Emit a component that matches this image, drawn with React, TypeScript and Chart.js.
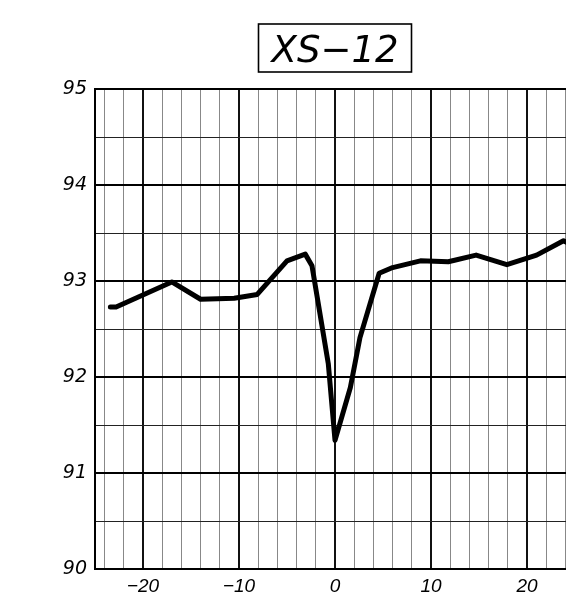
import React, { useEffect, useRef } from "react";
import { Chart, registerables } from "chart.js";

Chart.register(...registerables);

const TITLE = "XS\u221212";
const XS = [-23.4, -22.8, -17.0, -14.0, -10.5, -8.1, -5.0, -3.1, -2.4, -0.7, 0.0, 1.6, 2.6, 4.6, 6.0, 8.9, 11.8, 14.7, 17.9, 21.0, 23.8, 25.0];
const YS = [92.73, 92.73, 92.99, 92.81, 92.82, 92.86, 93.21, 93.28, 93.16, 92.14, 91.34, 91.89, 92.41, 93.08, 93.14, 93.21, 93.2, 93.27, 93.17, 93.27, 93.42, 93.36];
const X_MIN = -25;
const X_MAX = 25;
const Y_MIN = 90;
const Y_MAX = 95;
const X_TICKS = [-24, -22, -20, -18, -16, -14, -12, -10, -8, -6, -4, -2, 0, 2, 4, 6, 8, 10, 12, 14, 16, 18, 20, 22, 24];
const X_LABELED = [-20, -10, 0, 10, 20];
const Y_TICKS = [90, 90.5, 91, 91.5, 92, 92.5, 93, 93.5, 94, 94.5, 95];
const Y_LABELED = [90, 91, 92, 93, 94, 95];

const titlePlugin = {
  id: "boxTitle",
  afterDraw(chart: any) {
    const ctx = chart.ctx;
    const a = chart.chartArea;
    const cx = (a.left + a.right) / 2;
    ctx.save();
    ctx.font = "italic 200 37px 'DejaVu Sans', sans-serif";
    ctx.fillStyle = "#000";
    ctx.textAlign = "center";
    ctx.textBaseline = "alphabetic";
    ctx.fillText(TITLE, cx, 54);
    ctx.lineWidth = 1.6;
    ctx.strokeStyle = "#000";
    ctx.strokeRect(cx - 76.5, 16, 153, 48);
    ctx.restore();
  },
};

export default function App() {
  const ref = useRef<HTMLCanvasElement>(null);
  useEffect(() => {
    if (!ref.current) return;
    const pts = XS.map((x, i) => ({ x, y: YS[i] }));
    const chart = new Chart(ref.current, {
      type: "line",
      data: {
        datasets: [
          {
            data: pts,
            borderColor: "#000",
            borderWidth: 5,
            pointRadius: 0,
            tension: 0,
            borderJoinStyle: "round",
            borderCapStyle: "round",
          },
        ],
      },
      plugins: [titlePlugin],
      options: {
        animation: false,
        responsive: false,
        devicePixelRatio: 1,
        layout: { padding: { top: 81, right: 13, left: 0, bottom: 0 } },
        plugins: { legend: { display: false }, tooltip: { enabled: false }, title: { display: false } },
        scales: {
          x: {
            type: "linear",
            min: X_MIN,
            max: X_MAX,
            afterBuildTicks: (s: any) => {
              s.ticks = X_TICKS.map((v) => ({ value: v }));
            },
            afterFit: (s: any) => {
              s.height = 28;
            },
            ticks: {
              autoSkip: false,
              maxRotation: 0,
              padding: 6,
              color: "#000",
              font: { family: "'Liberation Sans', Arial, sans-serif", size: 19, style: "italic" },
              callback: (v: any) => {
                const n = Number(v);
                if (!X_LABELED.includes(n)) return "";
                return n < 0 ? "\u2212" + Math.abs(n) : String(n);
              },
            },
            grid: {
              drawTicks: false,
              color: (c: any) => (c.tick && X_LABELED.includes(c.tick.value) ? "#111" : "#888"),
              lineWidth: (c: any) => (c.tick && X_LABELED.includes(c.tick.value) ? 2 : 1),
            },
            border: { display: true, color: "#000", width: 2 },
          },
          y: {
            type: "linear",
            min: Y_MIN,
            max: Y_MAX,
            afterBuildTicks: (s: any) => {
              s.ticks = Y_TICKS.map((v) => ({ value: v }));
            },
            afterFit: (s: any) => {
              s.width = 87;
            },
            ticks: {
              autoSkip: false,
              padding: 8,
              color: "#000",
              font: { family: "'DejaVu Sans', sans-serif", size: 19, style: "italic" },
              callback: (v: any) => (Y_LABELED.includes(Number(v)) ? String(v) : ""),
            },
            grid: {
              drawTicks: false,
              color: (c: any) => (c.tick && Y_LABELED.includes(c.tick.value) ? "#000" : "#222"),
              lineWidth: (c: any) => (c.tick && Y_LABELED.includes(c.tick.value) ? 2 : 1),
            },
            border: { display: true, color: "#000", width: 2 },
          },
        },
      },
    } as any);
    return () => chart.destroy();
  }, []);
  return (
    <div style={{ width: 566, height: 589, overflow: "hidden" }}>
      <canvas ref={ref} width={580} height={589} style={{ display: "block" }} />
    </div>
  );
}
